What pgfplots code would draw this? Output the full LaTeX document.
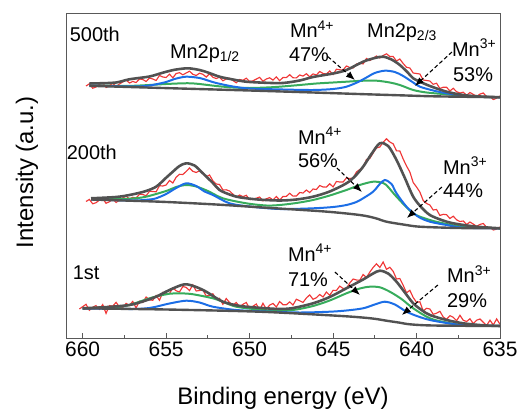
\documentclass[border=0pt]{standalone}
\usepackage{fontspec}
\setmainfont{Liberation Sans}
\usepackage{pgfplots}
\usepackage{pgfplotstable}
\pgfplotsset{compat=1.18}
\usetikzlibrary{arrows.meta}

\definecolor{rawred}{RGB}{240,55,55}
\definecolor{fitblue}{RGB}{28,110,230}
\definecolor{fitgreen}{RGB}{55,172,92}
\definecolor{fitgray}{RGB}{82,82,82}

% raw spectra, y in picture units (axis runs downward, offsets per cycle)
\pgfplotstableread{
be y
659.8 86.0
659.6 83.8
659.4 88.2
659.2 87.0
659.0 84.3
658.8 82.7
658.6 87.5
658.4 85.8
658.2 83.2
658.0 86.5
657.8 84.0
657.6 82.0
657.4 80.0
657.2 83.0
657.0 81.5
656.8 82.5
656.6 79.0
656.4 79.5
656.2 81.5
656.0 78.0
655.8 79.0
655.6 80.5
655.4 75.5
655.2 77.0
655.0 77.5
654.8 74.2
654.6 77.8
654.4 73.5
654.2 72.7
654.0 74.8
653.8 73.0
653.6 71.2
653.4 74.3
653.2 75.5
653.0 73.2
652.8 74.3
652.6 77.0
652.4 73.7
652.2 77.3
652.0 78.5
651.8 77.2
651.6 80.8
651.4 79.0
651.2 78.3
651.0 80.5
650.8 82.8
650.6 79.5
650.4 80.3
650.2 78.2
650.0 81.5
649.8 80.8
649.6 79.1
649.4 77.4
649.2 81.2
649.0 79.0
648.8 77.8
648.6 80.1
648.4 76.9
648.2 80.7
648.0 77.5
647.8 77.6
647.6 74.7
647.4 77.8
647.2 77.9
647.0 75.0
646.8 76.1
646.6 73.7
646.4 76.8
646.2 73.9
646.0 75.0
645.8 71.5
645.6 73.5
645.4 74.0
645.2 71.0
645.0 74.5
644.8 69.2
644.6 69.8
644.4 70.0
644.2 66.0
644.0 67.5
643.8 68.0
643.6 64.0
643.4 63.3
643.2 63.9
643.0 58.5
642.8 60.6
642.6 58.2
642.4 56.0
642.2 58.0
642.0 55.5
641.8 53.8
641.6 56.5
641.4 56.5
641.2 61.0
641.0 59.0
640.8 63.5
640.6 67.3
640.4 68.0
640.2 73.0
640.0 73.5
639.8 74.0
639.6 80.0
639.4 80.5
639.2 81.0
639.0 84.3
638.8 83.2
638.6 88.5
638.4 87.2
638.2 87.3
638.0 91.0
637.8 88.3
637.6 91.7
637.4 93.0
637.2 92.2
637.0 95.3
636.8 92.5
636.6 94.4
636.4 96.3
636.2 94.1
636.0 93.0
635.8 96.8
635.6 96.6
635.4 99.5
635.2 98.2
635.0 96.0
}\rawC

\pgfplotstableread{
be y
659.8 201.5
659.6 199.4
659.4 203.8
659.2 202.7
659.0 200.1
658.8 198.4
658.6 203.3
658.4 201.7
658.2 199.1
658.0 202.5
657.8 200.0
657.6 198.0
657.4 196.0
657.2 199.0
657.0 197.3
656.8 198.0
656.6 194.3
656.4 194.5
656.2 195.7
656.0 191.3
655.8 191.5
655.6 191.8
655.4 185.7
655.2 186.0
655.0 185.0
654.8 180.5
654.6 183.0
654.4 177.2
654.2 174.3
654.0 174.5
653.8 171.5
653.6 168.0
653.4 171.3
653.2 172.5
653.0 170.8
652.8 172.5
652.6 176.8
652.4 175.0
652.2 180.8
652.0 184.0
651.8 184.5
651.6 190.0
651.4 189.8
651.2 191.0
651.0 194.2
650.8 197.3
650.6 195.0
650.4 196.7
650.2 195.3
650.0 199.5
649.8 199.3
649.6 198.2
649.4 197.0
649.2 200.9
649.0 198.8
648.8 197.6
648.6 200.0
648.4 196.5
648.2 200.0
648.0 196.5
647.8 196.4
647.6 193.3
647.4 196.1
647.2 196.0
647.0 192.5
646.8 193.0
646.6 190.0
646.4 192.5
646.2 189.0
646.0 189.5
645.8 185.5
645.6 187.0
645.4 187.1
645.2 183.8
645.0 186.9
644.8 181.5
644.6 182.0
644.4 182.0
644.2 178.0
644.0 178.5
643.8 178.0
643.6 172.0
643.4 169.5
643.2 167.5
643.0 159.5
642.8 158.5
642.6 153.0
642.4 148.0
642.2 147.0
642.0 142.2
641.8 138.8
641.6 142.0
641.4 143.8
641.2 150.8
641.0 151.0
640.8 159.0
640.6 166.0
640.4 172.0
640.2 182.5
640.0 187.0
639.8 192.0
639.6 200.5
639.4 203.5
639.2 205.0
639.0 210.0
638.8 209.5
638.6 215.5
638.4 214.3
638.2 214.7
638.0 218.5
637.8 216.2
637.6 219.8
637.4 221.5
637.2 221.0
637.0 224.5
636.8 222.0
636.6 224.1
636.4 226.3
636.2 224.4
636.0 223.5
635.8 227.4
635.6 227.3
635.4 230.0
635.2 229.1
635.0 227.0
}\rawB

\pgfplotstableread{
be y
660.2 309.0
660.0 306.7
659.8 304.3
659.6 310.3
659.4 307.2
659.2 305.6
659.0 309.3
658.8 304.6
658.6 313.4
658.4 305.6
658.2 306.2
658.0 302.3
657.8 307.1
657.6 307.5
657.4 303.4
657.2 305.3
657.0 301.4
656.8 308.0
656.6 301.1
656.4 302.5
656.2 297.0
656.0 299.8
655.8 300.3
655.6 295.5
655.4 300.3
655.2 292.3
655.0 293.3
654.8 293.5
654.6 288.0
654.4 290.8
654.2 292.0
654.0 286.5
653.8 287.4
653.6 290.6
653.4 284.8
653.2 291.0
653.0 290.5
652.8 290.0
652.6 296.0
652.4 295.3
652.2 293.8
652.0 299.0
651.8 298.3
651.6 304.3
651.4 298.5
651.2 302.5
651.0 305.0
650.8 302.5
650.6 306.8
650.4 304.3
650.2 302.5
650.0 308.5
649.8 306.3
649.6 304.0
649.4 310.0
649.2 303.3
649.0 309.1
648.8 305.1
648.6 303.4
648.4 307.0
648.2 301.5
648.0 304.7
647.8 304.8
647.6 301.9
647.4 305.0
647.2 299.2
647.0 300.8
646.8 302.4
646.6 298.0
646.4 294.9
646.2 299.3
646.0 297.7
645.8 294.5
645.6 297.0
645.4 292.0
645.2 295.3
645.0 290.3
644.8 290.5
644.6 286.1
644.4 288.5
644.2 288.3
644.0 283.0
643.8 279.0
643.6 280.0
643.4 280.3
643.2 274.5
643.0 277.5
642.8 272.1
642.6 267.5
642.4 263.8
642.2 267.5
642.0 262.0
641.8 269.3
641.6 267.3
641.4 271.3
641.2 279.0
641.0 278.5
640.8 285.3
640.6 292.8
640.4 290.3
640.2 297.5
640.0 302.3
639.8 301.8
639.6 311.0
639.4 308.3
639.2 309.0
639.0 314.3
638.8 313.2
638.6 311.3
638.4 317.0
638.2 319.3
638.0 315.7
637.8 317.3
637.6 320.8
637.4 315.3
637.2 320.3
637.0 321.5
636.8 318.8
636.6 323.6
636.4 320.2
636.2 319.0
636.0 322.3
635.8 325.4
635.6 320.2
635.4 325.0
635.2 318.9
635.0 324.3
}\rawA

\begin{document}
\begin{tikzpicture}
\path[use as bounding box] (-66bp,-72bp) rectangle (454bp,338bp);
\begin{axis}[
  at={(0,0)}, anchor=south west,
  scale only axis, width=434bp, height=325bp,
  x dir=reverse, y dir=reverse,
  xmin=635, xmax=661, ymin=13, ymax=338,
  xtick={635,640,645,650,655,660},
  minor xtick={637.5,642.5,647.5,652.5,657.5},
  xtick pos=bottom, ytick=\empty,
  tick align=inside,
  major tick length=5bp, minor tick length=3.5bp,
  axis line style={black!65, line width=0.8pt},
  every tick/.style={black!65, line width=0.8pt},
  /pgf/number format/assume math mode=true,
  ticklabel style={font=\fontsize{21}{21}\selectfont},
  label style={font=\fontsize{24}{24}\selectfont},
  xlabel={Binding energy (eV)},
  ylabel={Intensity (a.u.)},
  xlabel style={at={(axis description cs:0.5,0)}, anchor=base, yshift=-66bp},
  ylabel style={at={(axis description cs:-0.076,0.51)}, anchor=base},
  clip=true,
]
% ---- 500th ----
\addplot[rawred, line width=1.15pt] table[x=be, y=y] {\rawC};
\addplot[fitgreen, line width=2pt, smooth] coordinates {
  (659.6,85.5) (658,85.8) (657,85.8) (656,85) (655,84) (654,83.3) (653.5,83.3) (653,84)
  (652,86) (651,87.5) (650,88) (649,87.5) (648.2,86.7) (647,85) (646,83.5) (645,82.5)
  (644.2,81.7) (643.3,80.8) (642.4,80.7) (641.6,82.5) (641,85) (640.2,90) (639.4,92.5)
  (638.2,94.3) (637,96) (636,96.8) (635,97.3)};
\addplot[fitblue, line width=2pt, smooth] coordinates {
  (659.6,85.5) (657,86.5) (656,85.5) (655,82) (654.5,79) (653.8,76.7) (653,78) (652.5,80.5)
  (652,83) (651,86.5) (650,88.5) (648,89.5) (646.2,90) (645,89) (644.2,86.7) (643.5,82)
  (643,77.5) (642.5,73) (641.9,70.7) (641.3,72) (640.8,76) (640.2,82.5) (639.8,86.7)
  (639,90.5) (638.2,93.3) (637.2,95.5) (636.6,96.5) (635,97.3)};
\addplot[fitgray, line width=2.4pt, smooth] coordinates {
  (659.6,85.8) (655,88.1) (650,90.5) (646,92.6) (643.5,94) (641,95.3) (639,96.3) (637,96.8) (635,97.3)};
\addplot[fitgray, line width=2.6pt, smooth] coordinates {
  (659.6,83.3) (659,83.3) (658,82.5) (657.2,79.3) (656,76.5) (655.2,72.7) (654.5,69.8)
  (653.7,68.3) (653,70) (652.5,72.5) (651.8,76.7) (651,79.5) (650.2,81.7) (649,82.8)
  (648,83) (647,80.5) (646.2,77) (645,73.5) (644.2,70) (643.2,61.7) (642.5,58) (642,56.7)
  (641.5,59.5) (641,65) (640.5,73) (640.2,78.3) (639.8,81.7) (639.2,86) (638.2,91.7)
  (637.2,95) (636.2,96.5) (635,97.2)};
% ---- 200th ----
\addplot[rawred, line width=1.15pt] table[x=be, y=y] {\rawB};
\addplot[fitgreen, line width=2pt, smooth] coordinates {
  (659.5,199.3) (658,199) (657,198.5) (656.2,196.7) (655,191) (654.4,187) (653.8,185)
  (653.2,186.5) (652.5,191) (651.6,198.3) (650.2,203.3) (649,205.5) (648.2,205) (647.2,203)
  (646.2,200) (645.2,195.5) (644.2,190) (643.4,185) (642.6,181.7) (642,183) (641.7,187)
  (641.2,196.7) (640.2,213.3) (639.2,220) (638.2,224) (637.2,226.7) (635,228.3)};
\addplot[fitblue, line width=2pt, smooth] coordinates {
  (659.5,199.5) (657,200.5) (656,199.5) (655.6,198.3) (655,194) (654.4,188) (653.8,183.3)
  (653.2,186) (652.7,191.5) (652.2,195) (651.2,203.3) (650,206.5) (648.2,209) (646.2,208.3)
  (645,207) (644.2,205) (643.6,202) (643.2,198.3) (642.6,191.7) (642.2,184) (641.9,180)
  (641.5,184) (641.2,193.3) (640.6,206.7) (639.9,216.7) (639.2,221.7) (638.2,225)
  (637.2,227.7) (635,228.3)};
\addplot[fitgray, line width=2.4pt, smooth] coordinates {
  (659.5,199.5) (655.4,201.7) (652,204.5) (649.4,207.3) (645.5,211.5) (643.4,215) (642.5,218)
  (641.8,221.7) (640.8,224.5) (639.8,226.7) (637.5,228) (635,228.3)};
\addplot[fitgray, line width=2.6pt, smooth] coordinates {
  (659.5,198.3) (658,197) (657.2,195) (656.3,191.5) (655.6,186.7) (655,177.7) (654.6,171.7)
  (654.2,166) (653.8,163.3) (653.3,165.5) (652.8,173.3) (652.2,183) (651.8,190) (651.2,194.5)
  (650.6,197.3) (649.5,199.5) (648.2,200.5) (647.2,199.5) (646.2,196.7) (645.2,191.5)
  (644.2,183.3) (643.7,176.5) (643.2,166.7) (642.7,154) (642.2,143.3) (641.7,146) (641.2,160)
  (640.7,178) (640.2,196.7) (639.7,207.5) (639.2,215) (638.5,220) (637.8,223.3) (636.5,226.5)
  (635,228.3)};
% ---- 1st ----
\addplot[rawred, line width=1.15pt] table[x=be, y=y] {\rawA};
\addplot[fitgreen, line width=2pt, smooth] coordinates {
  (660,308.3) (658,307) (657.2,305) (655.8,297.3) (654.8,293.7) (654.4,293.3) (653.5,294)
  (652.2,298.3) (651.5,302.5) (650.8,306.7) (649.5,309.5) (648.2,311) (647.2,309.5)
  (646.2,306) (645.2,300.5) (644.2,293.3) (643.4,288.5) (642.8,286.7) (642.2,287.3)
  (641.6,291.7) (640.9,299) (640.2,308.3) (639.2,318.3) (638.2,322.5) (637.2,325) (635,326)};
\addplot[fitblue, line width=2pt, smooth] coordinates {
  (660,308.5) (657,309) (656,308) (655.6,306.7) (654.8,303.5) (653.8,300.7) (653,302.5)
  (652.2,306.7) (650.8,310) (649,311.5) (647,312.5) (645.2,311.7) (644.2,310.5) (643.2,308.3)
  (642.5,304.5) (641.9,301.7) (641.3,304.5) (640.6,311.7) (639.9,316.5) (639.2,320)
  (638.2,323) (637.2,325) (635,326)};
\addplot[fitgray, line width=2.4pt, smooth] coordinates {
  (660,308.3) (655,309.5) (649.4,311.7) (645,315.5) (643.4,317.3) (642.5,318.8) (641.8,320.7)
  (641,322.7) (640.4,324.3) (639,325.5) (635,326)};
\addplot[fitgray, line width=2.6pt, smooth] coordinates {
  (660,308.3) (658.5,307) (657.2,305) (656.4,301.5) (655.6,296.7) (654.8,290) (653.9,284.3)
  (653.2,287) (652.6,291.7) (652.1,297) (651.6,301.7) (650.9,305) (650.2,306.7) (648.5,308.8)
  (647.5,308.3) (646.2,303.3) (645.2,297) (644.2,288.3) (643.2,279.5) (642.6,273.5)
  (642.2,270.7) (641.7,273.5) (641.2,281.7) (640.7,292.5) (640.2,303.3) (639.7,310)
  (639.2,315) (638.2,320) (637.2,323.3) (636,325.3) (635,326)};

% ---- annotations ----
\tikzset{lab/.style={font=\fontsize{20}{20}\selectfont, inner sep=0pt, anchor=base west},
         arr/.style={black, line width=1.1pt, dash pattern=on 4pt off 2.5pt,
                     -{Latex[length=9pt,width=7pt]}}}
\node[lab] at (axis cs:660.78,41.5) {500th};
\node[lab] at (axis cs:654.78,58.3) {Mn2p\textsubscript{1/2}};
\node[lab] at (axis cs:647.59,37.7) {Mn\textsuperscript{4+}};
\node[lab] at (axis cs:647.65,61) {47\%};
\node[lab] at (axis cs:642.97,37.7) {Mn2p\textsubscript{2/3}};
\node[lab] at (axis cs:637.88,56) {Mn\textsuperscript{3+}};
\node[lab] at (axis cs:637.82,81) {53\%};
\draw[arr] (axis cs:645.31,56.7) -- (axis cs:643.69,80);
\draw[arr] (axis cs:637.88,52) -- (axis cs:640.10,86);

\node[lab] at (axis cs:660.96,159.3) {200th};
\node[lab] at (axis cs:647.11,144.3) {Mn\textsuperscript{4+}};
\node[lab] at (axis cs:647.11,167.7) {56\%};
\node[lab] at (axis cs:638.42,174.3) {Mn\textsuperscript{3+}};
\node[lab] at (axis cs:638.42,197.7) {44\%};
\draw[arr] (axis cs:644.77,168) -- (axis cs:643.27,192);
\draw[arr] (axis cs:638.48,187) -- (axis cs:640.58,218);

\node[lab] at (axis cs:660.6,279.3) {1st};
\node[lab] at (axis cs:647.71,261) {Mn\textsuperscript{4+}};
\node[lab] at (axis cs:647.71,286) {71\%};
\node[lab] at (axis cs:638.18,282.7) {Mn\textsuperscript{3+}};
\node[lab] at (axis cs:638.18,307.7) {29\%};
\draw[arr] (axis cs:644.89,272) -- (axis cs:643.39,295);
\draw[arr] (axis cs:638.72,285) -- (axis cs:640.88,315);
\end{axis}
\end{tikzpicture}
\end{document}
